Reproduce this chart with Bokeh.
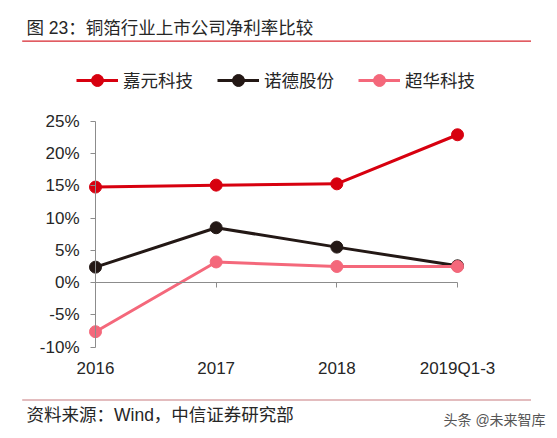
from bokeh.plotting import figure
from bokeh.models import (Range1d, FixedTicker, Label, Legend, LegendItem,
                          BoxAnnotation, LinearAxis)
from bokeh.embed import file_html
from bokeh.resources import INLINE

# ---- data ----
categories = ["2016", "2017", "2018", "2019Q1-3"]
series_names = ["嘉元科技", "诺德股份", "超华科技"]
jiayuan = [14.8, 15.1, 15.3, 22.9]
nuode = [2.4, 8.5, 5.5, 2.6]
chaohua = [-7.6, 3.2, 2.5, 2.5]
y_ticks = [-10, -5, 0, 5, 10, 15, 20, 25]
colors = ["#D7000F", "#231815", "#F4687B"]

title_text = "图 23：铜箔行业上市公司净利率比较"
source_text = "资料来源：Wind，中信证券研究部"
mark_text = "头条 @未来智库"

FONT = "Liberation Sans, Arial, Noto Sans CJK SC"
TXT = "#262626"
AX = "#8c8c8c"
xs = list(range(len(categories)))

# ---- layout (pixel geometry of the plotting area inside the canvas) ----
W, H = 557, 438
px_left, px_right = 95.0, 457.0      # where first / last category sit
px_top, px_bottom = 120.7, 346.7     # where max / min y tick sit
y_lo, y_hi = y_ticks[0], y_ticks[-1]
n = len(categories) - 1
ux = (px_right - px_left) / n
uy = (px_bottom - px_top) / (y_hi - y_lo)
x_range = Range1d(-px_left / ux, n + (W - px_right) / ux)
y_range = Range1d(y_lo - (H - px_bottom) / uy, y_hi + px_top / uy)

p = figure(width=W, height=H, output_backend="svg", toolbar_location=None,
           x_range=x_range, y_range=y_range,
           x_axis_location=None, y_axis_location=None,
           min_border=0, min_border_left=0, min_border_right=0,
           min_border_top=0, min_border_bottom=0)
p.outline_line_color = None
p.grid.visible = False
p.background_fill_color = "white"
p.border_fill_color = "white"

# y axis at x = first category
ya = LinearAxis(fixed_location=0, bounds=(y_lo, y_hi))
ya.ticker = FixedTicker(ticks=y_ticks)
ya.major_label_overrides = {t: f"{t}%" for t in y_ticks}
ya.axis_line_color = AX
ya.major_tick_line_color = AX
ya.major_tick_out = 5
ya.major_tick_in = 0
ya.minor_tick_line_color = None
ya.major_label_text_font = FONT
ya.major_label_text_font_size = "17px"
ya.major_label_text_color = TXT
ya.major_label_standoff = 11
p.add_layout(ya, "left")

# x axis line at y = 0 with downward ticks, no labels
xa0 = LinearAxis(fixed_location=0, bounds=(0, n))
xa0.ticker = FixedTicker(ticks=xs)
xa0.axis_line_color = AX
xa0.major_tick_line_color = AX
xa0.major_tick_out = 5
xa0.major_tick_in = 0
xa0.minor_tick_line_color = None
xa0.major_label_text_color = None
p.add_layout(xa0, "below")

# category labels at the bottom
xa = LinearAxis(fixed_location=y_lo)
xa.ticker = FixedTicker(ticks=xs)
xa.major_label_overrides = {i: c for i, c in zip(xs, categories)}
xa.axis_line_color = None
xa.major_tick_line_color = None
xa.minor_tick_line_color = None
xa.major_tick_out = 0
xa.major_tick_in = 0
xa.major_label_text_font = FONT
xa.major_label_text_font_size = "17px"
xa.major_label_text_color = TXT
xa.major_label_standoff = 12
p.add_layout(xa, "below")

items = []
for name, vals, c in zip(series_names, [jiayuan, nuode, chaohua], colors):
    rl = p.line(xs, vals, line_color=c, line_width=3)
    rp = p.scatter(xs, vals, size=12, fill_color=c, line_color=c)
    items.append(LegendItem(label=name, renderers=[rl, rp]))

legend = Legend(items=items, orientation="horizontal",
                location=(76, H - 79.5 - 15),
                glyph_width=42, glyph_height=30, label_standoff=5, spacing=24,
                padding=0, margin=0, border_line_color=None,
                background_fill_alpha=0, label_text_font=FONT,
                label_text_font_size="17.5px", label_text_color=TXT,
                label_text_baseline="middle")
p.add_layout(legend, "center")

# title, rules, footer (screen px, y measured from bottom)
p.add_layout(Label(x=26, y=H - 27.3, x_units="screen", y_units="screen",
                   text=title_text, text_font=FONT, text_font_size="17.5px",
                   text_color=TXT, text_baseline="middle"))
p.add_layout(BoxAnnotation(left=21.7, right=530.5, bottom=H - 41.3, top=H - 40.1,
                           left_units="screen", right_units="screen",
                           bottom_units="screen", top_units="screen",
                           fill_color="#D7262E", fill_alpha=1, line_color=None))
p.add_layout(BoxAnnotation(left=21.7, right=530.5, bottom=H - 400.1, top=H - 398.9,
                           left_units="screen", right_units="screen",
                           bottom_units="screen", top_units="screen",
                           fill_color="#C87A7E", fill_alpha=1, line_color=None))
p.add_layout(Label(x=26, y=H - 414, x_units="screen", y_units="screen",
                   text=source_text, text_font=FONT, text_font_size="17.5px",
                   text_color=TXT, text_baseline="middle"))
p.add_layout(Label(x=443, y=H - 419, x_units="screen", y_units="screen",
                   text=mark_text, text_font=FONT, text_font_size="14px",
                   text_color="#555555", text_baseline="middle"))

open("out.html", "w").write(file_html(p, INLINE))
